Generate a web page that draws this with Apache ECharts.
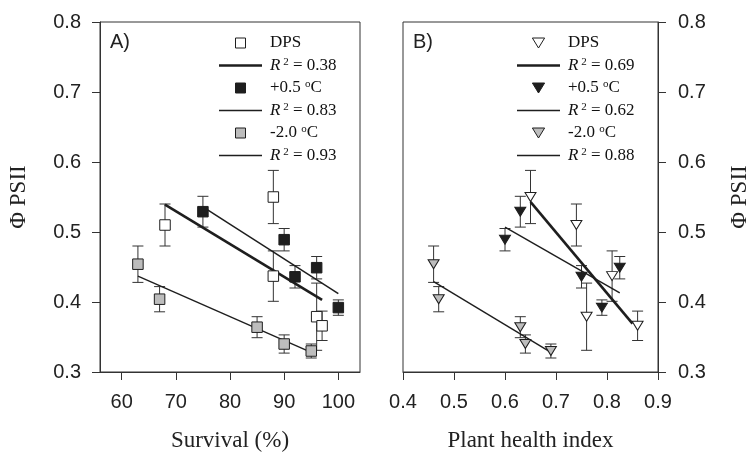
<!DOCTYPE html>
<html>
<head>
<meta charset="utf-8">
<script src="https://cdn.jsdelivr.net/npm/echarts@6/dist/echarts.min.js"></script>
<style>html,body{margin:0;padding:0;background:#fff;}#c{width:752px;height:457px;}</style>
</head>
<body>
<div id="c"></div>
<script>
// ---- Panel A: survival (%) vs PSII ----
const survDPS  = [68, 88, 88, 96, 97];
const psiiDPS  = [0.510, 0.550, 0.437, 0.379, 0.366];
const errDPS   = [0.030, 0.038, 0.036, 0.048, 0.021];
const survWarm = [75, 90, 92, 96, 100];
const psiiWarm = [0.529, 0.489, 0.436, 0.449, 0.392];
const errWarm  = [0.022, 0.016, 0.016, 0.016, 0.011];
const survCold = [63, 67, 85, 90, 95];
const psiiCold = [0.454, 0.404, 0.364, 0.340, 0.330];
const errCold  = [0.026, 0.018, 0.015, 0.013, 0.010];
// ---- Panel B: plant health index vs PSII (same PSII values) ----
const healthDPS  = [0.74, 0.65, 0.81, 0.76, 0.86];
const healthWarm = [0.63, 0.60, 0.75, 0.825, 0.79];
const healthCold = [0.46, 0.47, 0.63, 0.64, 0.69];
// ---- regression line end points ----
const fitA_DPS_x  = [68, 97];    const fitA_DPS_y  = [0.539, 0.403];
const fitA_Warm_x = [75, 100];   const fitA_Warm_y = [0.536, 0.412];
const fitA_Cold_x = [63, 95];    const fitA_Cold_y = [0.437, 0.328];
const fitB_DPS_x  = [0.65, 0.85];  const fitB_DPS_y  = [0.543, 0.369];
const fitB_Warm_x = [0.60, 0.825]; const fitB_Warm_y = [0.507, 0.413];
const fitB_Cold_x = [0.46, 0.69];  const fitB_Cold_y = [0.429, 0.328];
// ---- legend text ----
const r2A = ['0.38', '0.83', '0.93'];
const r2B = ['0.69', '0.62', '0.88'];
const groupLabels = ['DPS', '+0.5 {sup|o}C', '-2.0 {sup|o}C'];
// ---- ticks ----
const xTicksA = [60, 70, 80, 90, 100];

const INK = '#1e1e1e';
const GREY = '#bdbdbd';
const pts = (xs, ys) => xs.map((x, i) => [x, ys[i]]);
const errPts = (xs, ys, es) => xs.map((x, i) => [x, ys[i], es[i]]);

function errSeries(name, xi, xs, ys, es) {
  return {
    type: 'custom', name: name, xAxisIndex: xi, yAxisIndex: xi, z: 1,
    data: errPts(xs, ys, es), encode: {x: 0, y: 1},
    renderItem: function (params, api) {
      const x = api.value(0), y = api.value(1), e = api.value(2);
      const t = api.coord([x, y + e]), b = api.coord([x, y - e]);
      const w = 5.5;
      const st = {stroke: '#333', lineWidth: 1};
      return {type: 'group', children: [
        {type: 'line', shape: {x1: t[0], y1: t[1], x2: b[0], y2: b[1]}, style: st},
        {type: 'line', shape: {x1: t[0] - w, y1: t[1], x2: t[0] + w, y2: t[1]}, style: st},
        {type: 'line', shape: {x1: b[0] - w, y1: b[1], x2: b[0] + w, y2: b[1]}, style: st}
      ]};
    }
  };
}
function scatterSeries(name, xi, xs, ys, fill, tri) {
  return {
    type: 'scatter', name: name, xAxisIndex: xi, yAxisIndex: xi, z: 4,
    data: pts(xs, ys),
    symbol: tri ? 'triangle' : 'rect',
    symbolSize: tri ? [11, 9] : 10.5,
    symbolRotate: tri ? 180 : 0,
    itemStyle: {color: fill, borderColor: INK, borderWidth: 1, opacity: 1}
  };
}
function fitSeries(name, xi, xs, ys, width) {
  return {
    type: 'line', name: name, xAxisIndex: xi, yAxisIndex: xi, z: 3,
    data: pts(xs, ys), symbol: 'none', showSymbol: false, color: INK,
    lineStyle: {color: INK, width: width}, silent: true
  };
}

const legendText = {
  fontFamily: 'Liberation Serif', fontSize: 17, color: '#111', lineHeight: 18,
  padding: [0, 0, 0, 3],
  rich: {
    it: {fontFamily: 'Liberation Serif', fontStyle: 'italic', fontSize: 17, lineHeight: 18, color: '#111'},
    sup: {fontFamily: 'Liberation Serif', fontSize: 11, lineHeight: 11, verticalAlign: 'top', color: '#111'},
    n: {fontFamily: 'Liberation Serif', fontSize: 17, lineHeight: 18, color: '#111'}
  }
};
const nameMap = {};
['A', 'B'].forEach(p => {
  const r2 = p === 'A' ? r2A : r2B;
  ['DPS', 'Warm', 'Cold'].forEach((g, i) => {
    nameMap[p + '_' + g] = '{n|' + groupLabels[i].replace('{sup|o}', '}{sup|o}{n|') + '}';
    nameMap[p + '_fit' + g] = '{it|R}{sup| 2}{n| = ' + r2[i] + '}';
  });
});
const ICON_SQ = 'path://M0,0L10,0L10,10L0,10Z';
const ICON_TRI = 'path://M0,0L11,0L5.5,9Z';
const lineIcon = w => 'path://M0,0L43,0L43,' + w + 'L0,' + w + 'Z';
function legendFor(p, left, widths) {
  const mk = p === 'A' ? ICON_SQ : ICON_TRI;
  const fills = {DPS: '#ffffff', Warm: INK, Cold: GREY};
  const data = [];
  ['DPS', 'Warm', 'Cold'].forEach((g, i) => {
    data.push({name: p + '_' + g, icon: mk,
               itemStyle: {color: fills[g], borderColor: INK, borderWidth: 1}});
    data.push({name: p + '_fit' + g, icon: lineIcon(widths[i]),
               itemStyle: {color: INK, borderWidth: 0}});
  });
  return {
    left: left, top: 34, orient: 'vertical', padding: 0,
    itemWidth: 43, itemHeight: 10, itemGap: 4.5, selectedMode: false,
    symbolKeepAspect: true, symbolRotate: 0,
    data: data,
    formatter: n => nameMap[n],
    textStyle: legendText
  };
}

const axisLine = {show: true, lineStyle: {color: '#333', width: 1}};
const tickLab = {fontFamily: 'Liberation Sans', fontSize: 20, color: '#222'};
const nameStyle = {fontFamily: 'Liberation Serif', fontSize: 23, color: '#222'};

const option = {
  animation: false,
  backgroundColor: '#fff',
  grid: [
    {left: 100, top: 22, width: 260, height: 355, show: true, borderColor: '#333', borderWidth: 1, backgroundColor: 'transparent'},
    {left: 403, top: 22, width: 260, height: 355, show: true, borderColor: '#333', borderWidth: 1, backgroundColor: 'transparent'}
  ],
  xAxis: [
    {type: 'value', gridIndex: 0, min: 56, max: 104, axisLine: axisLine,
     axisTick: {show: true, length: 8, customValues: xTicksA, lineStyle: {color: '#333'}},
     axisLabel: Object.assign({margin: 20, customValues: xTicksA}, tickLab),
     splitLine: {show: false},
     name: 'Survival (%)', nameLocation: 'middle', nameGap: 57, nameTextStyle: nameStyle},
    {type: 'value', gridIndex: 1, min: 0.4, max: 0.9, interval: 0.1, axisLine: axisLine,
     axisTick: {show: true, length: 8, lineStyle: {color: '#333'}},
     axisLabel: Object.assign({margin: 20, formatter: v => v.toFixed(1)}, tickLab),
     splitLine: {show: false},
     name: 'Plant health index', nameLocation: 'middle', nameGap: 57, nameTextStyle: nameStyle}
  ],
  yAxis: [
    {type: 'value', gridIndex: 0, position: 'left', min: 0.3, max: 0.8, interval: 0.1, axisLine: axisLine,
     axisTick: {show: true, length: 8, lineStyle: {color: '#333'}},
     axisLabel: Object.assign({margin: 19, formatter: v => v.toFixed(1)}, tickLab),
     splitLine: {show: false},
     name: 'Φ PSII', nameLocation: 'middle', nameGap: 70, nameTextStyle: nameStyle},
    {type: 'value', gridIndex: 1, position: 'right', min: 0.3, max: 0.8, interval: 0.1, axisLine: axisLine,
     axisTick: {show: true, length: 8, lineStyle: {color: '#333'}},
     axisLabel: Object.assign({margin: 20, formatter: v => v.toFixed(1)}, tickLab),
     splitLine: {show: false},
     name: 'Φ PSII', nameLocation: 'middle', nameGap: 70, nameRotate: 90, nameTextStyle: nameStyle}
  ],
  legend: [legendFor('A', 219, [2.6, 1.6, 1.4]), legendFor('B', 517, [2.6, 1.4, 1.4])],
  graphic: [
    {type: 'text', left: 110, top: 32, style: {text: 'A)', font: '20px "Liberation Sans"', fill: '#222'}},
    {type: 'text', left: 413, top: 32, style: {text: 'B)', font: '20px "Liberation Sans"', fill: '#222'}}
  ],
  series: [
    errSeries('eA1', 0, survDPS, psiiDPS, errDPS),
    errSeries('eA2', 0, survWarm, psiiWarm, errWarm),
    errSeries('eA3', 0, survCold, psiiCold, errCold),
    fitSeries('A_fitDPS', 0, fitA_DPS_x, fitA_DPS_y, 2.6),
    fitSeries('A_fitWarm', 0, fitA_Warm_x, fitA_Warm_y, 1.5),
    fitSeries('A_fitCold', 0, fitA_Cold_x, fitA_Cold_y, 1.4),
    scatterSeries('A_DPS', 0, survDPS, psiiDPS, '#ffffff', false),
    scatterSeries('A_Warm', 0, survWarm, psiiWarm, INK, false),
    scatterSeries('A_Cold', 0, survCold, psiiCold, GREY, false),
    errSeries('eB1', 1, healthDPS, psiiDPS, errDPS),
    errSeries('eB2', 1, healthWarm, psiiWarm, errWarm),
    errSeries('eB3', 1, healthCold, psiiCold, errCold),
    fitSeries('B_fitDPS', 1, fitB_DPS_x, fitB_DPS_y, 2.6),
    fitSeries('B_fitWarm', 1, fitB_Warm_x, fitB_Warm_y, 1.4),
    fitSeries('B_fitCold', 1, fitB_Cold_x, fitB_Cold_y, 1.4),
    scatterSeries('B_DPS', 1, healthDPS, psiiDPS, '#ffffff', true),
    scatterSeries('B_Warm', 1, healthWarm, psiiWarm, INK, true),
    scatterSeries('B_Cold', 1, healthCold, psiiCold, GREY, true)
  ]
};
const chart = echarts.init(document.getElementById('c'), null, {renderer: 'canvas'});
chart.setOption(option);
</script>
</body>
</html>
